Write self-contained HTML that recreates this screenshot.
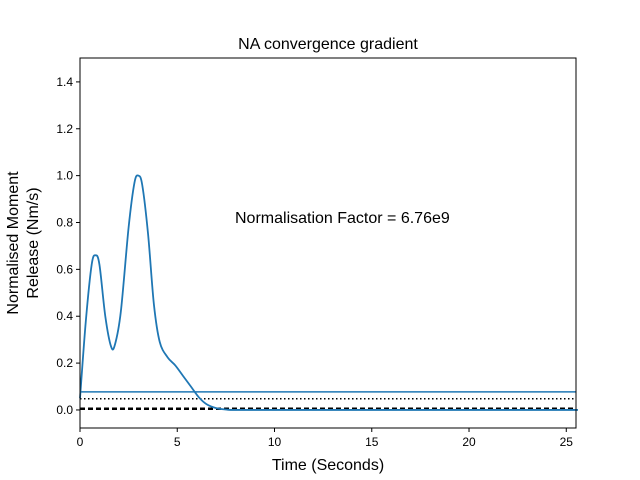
<!DOCTYPE html>
<html><head><meta charset="utf-8"><style>body{margin:0;background:#fff}svg{display:block}text{font-family:"Liberation Sans","DejaVu Sans",sans-serif}</style></head>
<body>
<svg id="chart" width="640" height="480" viewBox="0 0 640 480" xmlns="http://www.w3.org/2000/svg">
<rect width="640" height="480" fill="#fff"/>
<text x="328" y="49" font-size="16" text-anchor="middle">NA convergence gradient</text>
<text x="235" y="223" font-size="16">Normalisation Factor = 6.76e9</text>
<text x="328" y="470" font-size="16" text-anchor="middle">Time (Seconds)</text>
<text transform="translate(18,243) rotate(-90)" font-size="16" text-anchor="middle"><tspan x="0" dy="0">Normalised Moment</tspan><tspan x="0" dy="20">Release (Nm/s)</tspan></text>
<g id="plot"></g>
<rect x="80" y="58" width="496" height="370" fill="none" stroke="#000" stroke-width="1"/>
</svg>
<script>
const times=[0,0.3,0.6,0.8,1.0,1.3,1.6,1.8,2.1,2.5,2.8,3.0,3.2,3.5,3.8,4.1,4.5,4.9,5.3,5.7,6.1,6.5,7.0,7.5,8,10,15,20,25.6];
const values=[0.05,0.38,0.62,0.66,0.62,0.40,0.27,0.28,0.42,0.78,0.97,1.0,0.96,0.75,0.45,0.29,0.225,0.19,0.145,0.10,0.055,0.025,0.008,0.002,0.0,0,0,0,0];
const refSolid=0.077, refDotted=0.048, refDashed=0.005;
const xTicks=[0,5,10,15,20,25];
const yTicks=[0.0,0.2,0.4,0.6,0.8,1.0,1.2,1.4];
const X0=80,X1=576,Y0=428,Y1=58,xMin=0,xMax=25.5,yMin=-0.077,yMax=1.502;
const sx=v=>X0+(v-xMin)/(xMax-xMin)*(X1-X0);
const sy=v=>Y0-(v-yMin)/(yMax-yMin)*(Y0-Y1);
const g=document.getElementById('plot');
const NS='http://www.w3.org/2000/svg';
function mk(t,a){const e=document.createElementNS(NS,t);for(const k in a)e.setAttribute(k,a[k]);g.appendChild(e);return e;}
xTicks.forEach(t=>{
 const l=mk('line',{x1:sx(t),x2:sx(t),y1:Y0,y2:Y0+4,stroke:'#000'});
 
 
 const tx=mk('text',{x:sx(t),y:Y0+18,'font-size':12,'text-anchor':'middle'});tx.textContent=t;
 
 
});
yTicks.forEach(t=>{
 const l=mk('line',{x1:X0-4,x2:X0,y1:sy(t),y2:sy(t),stroke:'#000'});
 
 
 const tx=mk('text',{x:X0-7,y:sy(t)+4,'font-size':12,'text-anchor':'end'});tx.textContent=t.toFixed(1);
 
 
});
const l1=mk('line',{x1:X0,x2:X1,y1:sy(refSolid),y2:sy(refSolid),stroke:'#1f77b4','stroke-width':1.5});


const l2=mk('line',{x1:X0,x2:X1,y1:sy(refDotted),y2:sy(refDotted),stroke:'#000','stroke-width':1.5,'stroke-dasharray':'1.5 2.5'});


const l3=mk('line',{x1:X0,x2:X1,y1:sy(refDashed),y2:sy(refDashed),stroke:'#000','stroke-width':2.5,'stroke-dasharray':'5 3'});


const P=times.map((t,i)=>[sx(t),sy(values[i])]);
let d='M'+P[0][0]+','+P[0][1];
for(let i=0;i<P.length-1;i++){const p0=P[Math.max(0,i-1)],p1=P[i],p2=P[i+1],p3=P[Math.min(P.length-1,i+2)];
 d+=` C${p1[0]+(p2[0]-p0[0])/6},${p1[1]+(p2[1]-p0[1])/6} ${p2[0]-(p3[0]-p1[0])/6},${p2[1]-(p3[1]-p1[1])/6} ${p2[0]},${p2[1]}`;}
const c=mk('path',{d:d,fill:'none',stroke:'#1f77b4','stroke-width':1.8});


</script>
</body></html>
